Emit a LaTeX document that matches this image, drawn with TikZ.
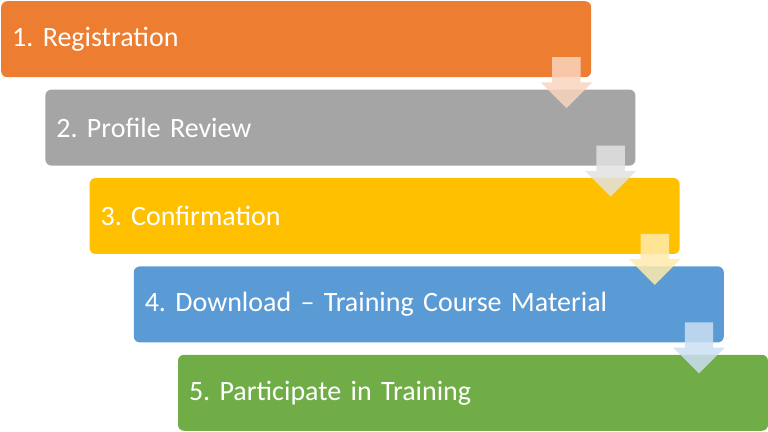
\documentclass[tikz,border=0pt]{standalone}
\usepackage{fontspec}
\setmainfont{Carlito}
\frenchspacing
\usetikzlibrary{positioning, shapes.arrows}
\definecolor{stepone}{HTML}{ED7D31}
\definecolor{steptwo}{HTML}{A5A5A5}
\definecolor{stepthree}{HTML}{FFC000}
\definecolor{stepfour}{HTML}{5B9BD5}
\definecolor{stepfive}{HTML}{70AD47}
\tikzset{
		stepbox/.style={rounded corners=6bp, minimum width=590bp, minimum height=76bp,
			text width=568bp, inner sep=11bp, align=left, text=white,
			font=\fontsize{28bp}{32bp}\selectfont},
		next step/.style={below=12bp of #1.south west, anchor=north west, xshift=44.2bp},
		down arrow/.style={single arrow, shape border rotate=270, minimum height=51bp,
			single arrow head extend=11.5bp, single arrow head indent=0pt, inner sep=14bp,
			fill=#1!32!white, fill opacity=0.85, anchor=tip}
	}

\begin{document}
\begin{tikzpicture}
	\useasboundingbox (0,0) rectangle (768bp,-432bp);
	\node[stepbox, fill=stepone, anchor=north west] (b1) at (1bp,-1bp) {1. Registration};
	\node[stepbox, fill=steptwo,   next step=b1] (b2) {2. Profile Review};
	\node[stepbox, fill=stepthree, next step=b2] (b3) {3. Confirmation};
	\node[stepbox, fill=stepfour,  next step=b3] (b4) {4. Download -- Training Course Material};
	\node[stepbox, fill=stepfive,  next step=b4] (b5) {5. Participate in Training};

	\node[down arrow=stepone]   (a1) at ([xshift=-25bp,yshift=-31bp]b1.south east) {};
	\node[down arrow=steptwo]   (a2) at ([xshift=-25bp,yshift=-31bp]b2.south east) {};
	\node[down arrow=stepthree] (a3) at ([xshift=-25bp,yshift=-31bp]b3.south east) {};
	\node[down arrow=stepfour]  (a4) at ([xshift=-25bp,yshift=-31bp]b4.south east) {};
\end{tikzpicture}
\end{document}
